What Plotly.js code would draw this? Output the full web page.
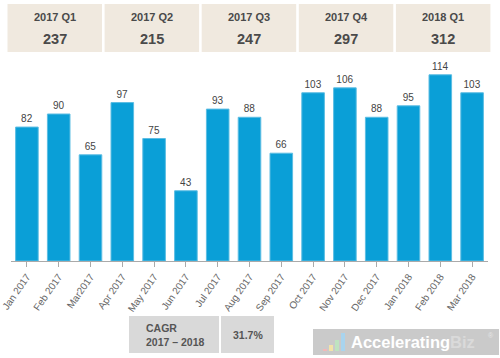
<!DOCTYPE html>
<html><head><meta charset="utf-8">
<script src="https://cdn.plot.ly/plotly-3.0.1.min.js"></script>
<style>html,body{margin:0;padding:0;background:#fff}#c{width:500px;height:358px}</style>
</head><body><div id="c"></div>
<script>
const months = ["Jan 2017","Feb 2017","Mar2017","Apr 2017","May 2017","Jun 2017","Jul 2017","Aug 2017","Sep 2017","Oct 2017","Nov 2017","Dec 2017","Jan 2018","Feb 2018","Mar 2018"];
const values = [82,90,65,97,75,43,93,88,66,103,106,88,95,114,103];
const quarters = ["2017 Q1","2017 Q2","2017 Q3","2017 Q4","2018 Q1"];
const quarterTotals = [237,215,247,297,312];
const cagrLabel = "CAGR<br>2017 – 2018";
const cagrValue = "31.7%";

const W = 500, H = 358;
const px = x => x / W, py = y => 1 - y / H;
const shapes = [], ann = [];
const font = "Liberation Sans, Arial, sans-serif";

// quarter boxes
const qx0 = 7.5, qw = 94.5, qgap = 2.6;
quarters.forEach((q, i) => {
  const x0 = qx0 + i * (qw + qgap), x1 = x0 + qw;
  shapes.push({type:"rect", xref:"paper", yref:"paper", x0:px(x0), x1:px(x1), y0:py(52), y1:py(4), fillcolor:"#f0e9df", line:{width:0}, layer:"below"});
  ann.push({xref:"paper", yref:"paper", x:px((x0+x1)/2), y:py(17), text:"<b>"+q+"</b>", showarrow:false, xanchor:"center", yanchor:"middle", font:{family:font, size:11, color:"#4a4a4a"}});
  ann.push({xref:"paper", yref:"paper", x:px((x0+x1)/2), y:py(39), text:"<b>"+quarterTotals[i]+"</b>", showarrow:false, xanchor:"center", yanchor:"middle", font:{family:font, size:14.5, color:"#4a4a4a"}});
});

// CAGR boxes
shapes.push({type:"rect", xref:"paper", yref:"paper", x0:px(129), x1:px(219), y0:py(353), y1:py(316), fillcolor:"#d9d9d9", line:{width:0}});
shapes.push({type:"rect", xref:"paper", yref:"paper", x0:px(221), x1:px(274), y0:py(353), y1:py(316), fillcolor:"#d9d9d9", line:{width:0}});
ann.push({xref:"paper", yref:"paper", x:px(144), y:py(334.5), text:"<b>"+cagrLabel+"</b>", align:"left", showarrow:false, xanchor:"left", yanchor:"middle", font:{family:font, size:10.5, color:"#555"}});
ann.push({xref:"paper", yref:"paper", x:px(247.5), y:py(335), text:"<b>"+cagrValue+"</b>", showarrow:false, xanchor:"center", yanchor:"middle", font:{family:font, size:10.5, color:"#555"}});

// logo
shapes.push({type:"rect", xref:"paper", yref:"paper", x0:px(313), x1:px(499), y0:py(355), y1:py(329), fillcolor:"#cacaca", line:{width:0}});
const icon = [["#f2b8b8",323,349,4],["#f3e3a8",329,345,4],["#bfe3c0",335,340,4],["#a9d4ee",341,333,4]];
icon.forEach(([c,x,y,w]) => shapes.push({type:"rect", xref:"paper", yref:"paper", x0:px(x), x1:px(x+w), y0:py(351), y1:py(y), fillcolor:c, line:{width:0}}));
ann.push({xref:"paper", yref:"paper", x:px(349), y:py(342), text:"<b>Accelerating<span style='color:#dadada'>Biz</span></b>", showarrow:false, xanchor:"left", yanchor:"middle", font:{family:font, size:16.5, color:"#ffffff"}});
ann.push({xref:"paper", yref:"paper", x:px(486), y:py(335), text:"®", showarrow:false, xanchor:"left", yanchor:"middle", font:{family:font, size:7, color:"#e6e6e6"}});

const trace = {
  type:"bar", x:months, y:values,
  marker:{color:"#0a9fd7", line:{color:"#5cbde3", width:1}},
  text:values.map(String), textposition:"outside", cliponaxis:false,
  textfont:{family:font, size:10, color:"#444"},
  hoverinfo:"none"
};
const layout = {
  width:W, height:H, margin:{l:0,r:0,t:0,b:0},
  paper_bgcolor:"#fff", plot_bgcolor:"#fff",
  showlegend:false, bargap:0.29,
  xaxis:{domain:[px(11), px(488)], range:[-0.5,14.5], tickangle:-55, ticks:"outside", ticklen:5, tickcolor:"#aaa",
    showline:true, linecolor:"#aaa", linewidth:1, showgrid:false, zeroline:false, fixedrange:true,
    tickfont:{family:font, size:10, color:"#666"}},
  yaxis:{domain:[py(261), py(65)], range:[0,120], visible:false, showgrid:false, zeroline:false},
  shapes:shapes, annotations:ann
};
Plotly.newPlot("c", [trace], layout, {displayModeBar:false, staticPlot:true});
</script></body></html>
